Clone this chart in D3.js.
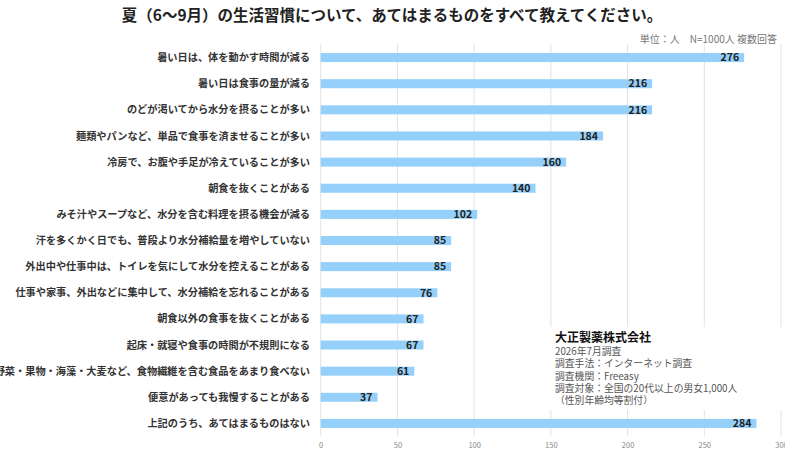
<!DOCTYPE html>
<html>
<head>
<meta charset="utf-8">
<script src="https://cdn.jsdelivr.net/npm/d3@7"></script>
<style>
  body { margin: 0; background: #fff; }
  svg { font-family: "Noto Sans CJK JP", "Noto Sans", sans-serif; }
</style>
</head>
<body>
<div id="chart"></div>
<script>
// chart data
const categories = [
  "暑い日は、体を動かす時間が減る",
  "暑い日は食事の量が減る",
  "のどが渇いてから水分を摂ることが多い",
  "麺類やパンなど、単品で食事を済ませることが多い",
  "冷房で、お腹や手足が冷えていることが多い",
  "朝食を抜くことがある",
  "みそ汁やスープなど、水分を含む料理を摂る機会が減る",
  "汗を多くかく日でも、普段より水分補給量を増やしていない",
  "外出中や仕事中は、トイレを気にして水分を控えることがある",
  "仕事や家事、外出などに集中して、水分補給を忘れることがある",
  "朝食以外の食事を抜くことがある",
  "起床・就寝や食事の時間が不規則になる",
  "野菜・果物・海藻・大麦など、食物繊維を含む食品をあまり食べない",
  "便意があっても我慢することがある",
  "上記のうち、あてはまるものはない"
];
const values = [276, 216, 216, 184, 160, 140, 102, 85, 85, 76, 67, 67, 61, 37, 284];
const xTicks = [0, 50, 100, 150, 200, 250, 300];

const titleText = "夏（6〜9月）の生活習慣について、あてはまるものをすべて教えてください。";
const unitText = "単位：人　N=1000人 複数回答";
const noteTitle = "大正製薬株式会社";
const noteLines = [
  "2026年7月調査",
  "調査手法：インターネット調査",
  "調査機関：Freeasy",
  "調査対象：全国の20代以上の男女1,000人",
  "（性別年齢均等割付）"
];

const width = 785, height = 457;

const svg = d3.select("#chart")
  .append("svg")
  .attr("width", width)
  .attr("height", height);

const x = d3.scaleLinear().domain([0, 300]).range([320.7, 781]);
const y = d3.scaleBand()
  .domain(categories)
  .range([44.5, 436.5])
  .paddingInner(0.655)
  .paddingOuter(0.3275);

// title
svg.append("text")
  .attr("x", 392)
  .attr("y", 21)
  .attr("text-anchor", "middle")
  .attr("font-size", 15.5)
  .attr("font-weight", "bold")
  .attr("fill", "#222")
  .text(titleText);

// unit
svg.append("text")
  .attr("x", 777)
  .attr("y", 43)
  .attr("text-anchor", "end")
  .attr("font-size", 10)
  .attr("fill", "#777")
  .text(unitText);

// gridlines
svg.append("g")
  .selectAll("line")
  .data(xTicks)
  .join("line")
  .attr("x1", d => x(d))
  .attr("x2", d => x(d))
  .attr("y1", 44)
  .attr("y2", 436)
  .attr("stroke", "#e2e2e2")
  .attr("stroke-width", 1);

// x axis labels
const xAxis = d3.axisBottom(x).tickValues(xTicks).tickSize(0).tickPadding(0);
const gx = svg.append("g")
  .attr("transform", "translate(0,443)")
  .call(xAxis);
gx.select(".domain").remove();
gx.selectAll("text")
  .attr("fill", "#888")
  .attr("font-size", 7.5)
  .attr("font-family", "\"Noto Sans CJK JP\", sans-serif");

// note box (covers gridlines)
svg.append("rect")
  .attr("x", 546)
  .attr("y", 327)
  .attr("width", 239)
  .attr("height", 83)
  .attr("fill", "#fff");

const note = svg.append("g").attr("transform", "translate(555,0)");
note.append("text")
  .attr("y", 342)
  .attr("font-size", 12)
  .attr("font-weight", "bold")
  .attr("fill", "#111")
  .text(noteTitle);
note.selectAll(".nl")
  .data(noteLines)
  .join("text")
  .attr("class", "nl")
  .attr("y", (d, i) => 355 + i * 12.3)
  .attr("font-size", 9.8)
  .attr("fill", "#555")
  .text(d => d);

// category labels
svg.append("g")
  .selectAll("text")
  .data(categories)
  .join("text")
  .attr("x", 310)
  .attr("y", d => y(d) + y.bandwidth() / 2)
  .attr("dy", "0.35em")
  .attr("text-anchor", "end")
  .attr("font-size", 10.2)
  .attr("font-weight", "bold")
  .attr("fill", "#333")
  .text(d => d);

// bars
svg.append("g")
  .selectAll("rect")
  .data(values)
  .join("rect")
  .attr("x", x(0))
  .attr("y", (d, i) => y(categories[i]))
  .attr("width", d => x(d) - x(0))
  .attr("height", y.bandwidth())
  .attr("fill", "#95d0fb");

// value labels
svg.append("g")
  .selectAll("text")
  .data(values)
  .join("text")
  .attr("x", d => x(d) - 5)
  .attr("y", (d, i) => y(categories[i]) + y.bandwidth() / 2)
  .attr("dy", "0.36em")
  .attr("text-anchor", "end")
  .attr("font-size", 10.5)
  .attr("font-weight", "bold")
  .attr("fill", "#222")
  .text(d => d);
</script>
</body>
</html>
